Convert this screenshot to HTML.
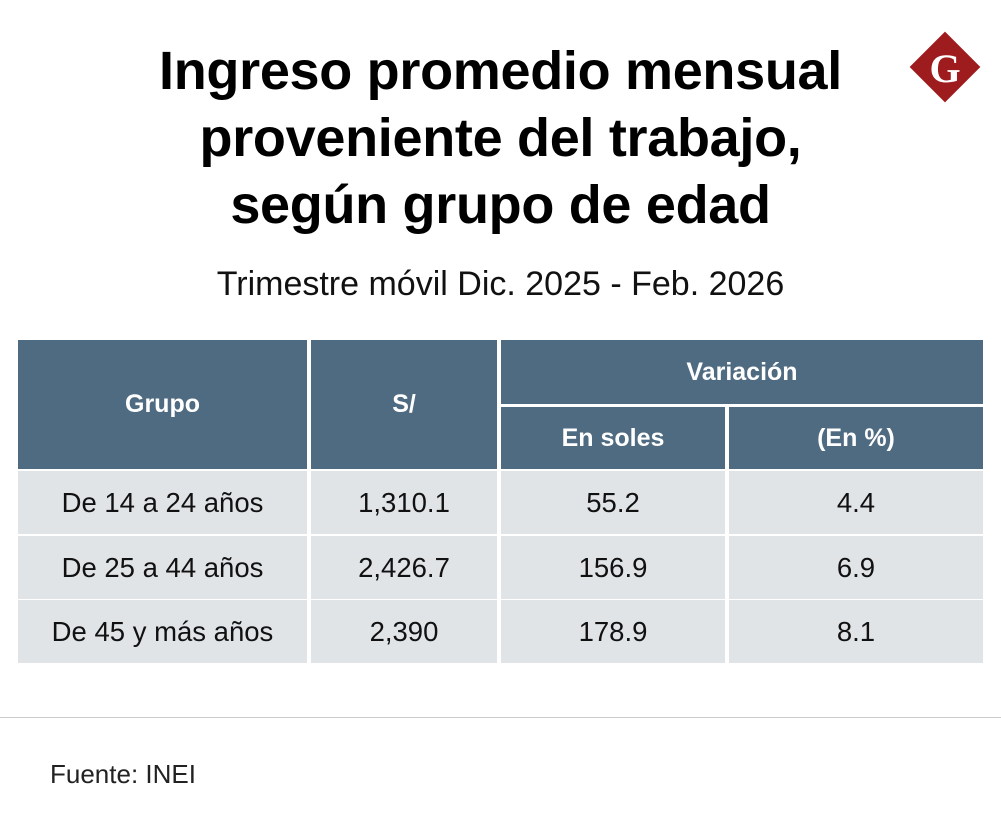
<!DOCTYPE html>
<html><head><meta charset="utf-8"><style>
body{margin:0;width:1001px;height:829px;background:#fff;position:relative;overflow:hidden;font-family:"Liberation Sans",sans-serif;}
.a{position:absolute;box-sizing:border-box;display:flex;align-items:center;justify-content:center;}
.h{background:#4f6b82;color:#fff;font-weight:bold;font-size:25px;}
.d{background:#e1e4e7;color:#111;font-size:27.5px;}
</style></head><body>
<div style="position:absolute;left:0;width:1001px;top:38px;text-align:center;font-weight:bold;font-size:54px;line-height:67px;color:#000;letter-spacing:-0.3px">Ingreso promedio mensual<br>proveniente del trabajo,<br>según grupo de edad</div>
<div style="position:absolute;left:920px;top:42px;width:50px;height:50px;background:#9e1b1e;transform:rotate(45deg)"></div>
<div class="a" style="left:910px;top:42px;width:70px;height:52px;color:#fff;font-family:'Liberation Serif',serif;font-weight:bold;font-size:40px">G</div>
<div style="position:absolute;left:0;width:1001px;top:265px;text-align:center;font-size:34px;color:#111">Trimestre móvil Dic. 2025 - Feb. 2026</div>

<div class="a h" style="left:18px;top:340px;width:289px;height:129px">Grupo</div>
<div class="a h" style="left:311px;top:340px;width:186px;height:129px">S/</div>
<div class="a h" style="left:501px;top:340px;width:482px;height:64px">Variación</div>
<div class="a h" style="left:501px;top:407px;width:224px;height:62px">En soles</div>
<div class="a h" style="left:729px;top:407px;width:254px;height:62px">(En %)</div>

<div id="rows"></div>
<div style="position:absolute;left:0;top:717px;width:1001px;height:1px;background:#ccc"></div>
<div style="position:absolute;left:50px;top:759px;font-size:26px;color:#222">Fuente: INEI</div>
<script>
const groups=["De 14 a 24 años","De 25 a 44 años","De 45 y más años"];
const income=["1,310.1","2,426.7","2,390"];
const varSoles=["55.2","156.9","178.9"];
const varPct=["4.4","6.9","8.1"];
const cols=[[18,289],[311,186],[501,224],[729,254]];
const tops=[471,536,600];
const host=document.getElementById('rows');
groups.forEach((g,i)=>{
  const vals=[g,income[i],varSoles[i],varPct[i]];
  vals.forEach((v,j)=>{
    const el=document.createElement('div');
    el.className='a d';
    el.style.left=cols[j][0]+'px';el.style.width=cols[j][1]+'px';
    el.style.top=tops[i]+'px';el.style.height='63px';
    el.textContent=v;
    
    
    host.appendChild(el);
  });
});
</script>
</body></html>
